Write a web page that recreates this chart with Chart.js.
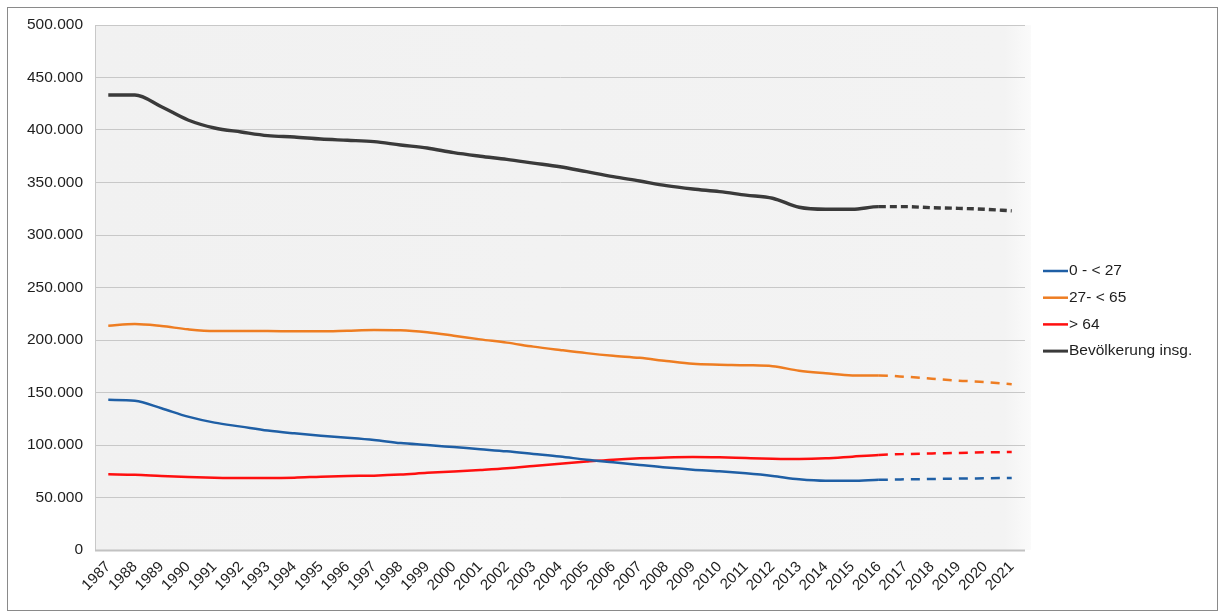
<!DOCTYPE html>
<html>
<head>
<meta charset="utf-8">
<script src="https://cdn.jsdelivr.net/npm/chart.js@4/dist/chart.umd.min.js"></script>
<style>
html,body{margin:0;padding:0;background:#fff;}
#wrap{width:1220px;height:614px;position:relative;}
</style>
</head>
<body>
<div id="wrap"><canvas id="c" width="1220" height="614"></canvas></div>
<script>
const years = ["1987","1988","1989","1990","1991","1992","1993","1994","1995","1996","1997","1998","1999","2000","2001","2002","2003","2004","2005","2006","2007","2008","2009","2010","2011","2012","2013","2014","2015","2016","2017","2018","2019","2020","2021"];
const under27 = [143000,142200,135000,127000,121300,117500,113700,111100,108900,107000,104800,101800,100000,98000,96000,94000,91500,89000,86000,83500,81000,78500,76500,75000,73000,70500,67300,65900,65900,66800,67300,67600,68000,68300,68600];
const age27to64 = [213600,215200,213300,210200,208600,208600,208600,208300,208300,208900,209500,209200,207300,204100,200600,197500,193700,190500,187500,185000,183000,180000,177300,176500,176000,175000,170800,168300,166200,166200,165000,163200,161300,160000,157800];
const over64 = [72100,71700,70500,69500,68900,68600,68600,68900,69800,70500,70800,71800,73500,74800,76200,77800,80000,82200,84200,86000,87300,88200,88600,88300,87600,87000,86700,87300,88900,90500,91400,92000,92400,93000,93300];
const total = [433300,433300,422200,409500,401900,398100,394600,393300,391400,390200,388900,385700,382900,378400,375000,372000,368500,365000,360300,355600,351400,347000,343800,341300,338000,335000,326400,324500,324500,327000,327000,326000,325400,324500,323000];
const seriesLabels = ["0 - < 27","27- < 65","> 64","Bevölkerung insg."];
const yTicks = [0,50000,100000,150000,200000,250000,300000,350000,400000,450000,500000];
const lastActualIndex = 29; // 2016; after that projection (dashed)

const colors = ["#1f5fa5","#ee7d22","#ff0f0f","#3a3a3a"];
const widths = [2.5,2.5,2.5,3.4];
const values = [under27, age27to64, over64, total];

function fmt(v){ return String(v).replace(/\B(?=(\d{3})+(?!\d))/g, "."); }

const datasets = values.map((d,i)=>({
  label: seriesLabels[i],
  data: d,
  borderColor: colors[i],
  backgroundColor: colors[i],
  borderWidth: widths[i],
  pointRadius: 0,
  cubicInterpolationMode: 'monotone',
  fill: false,
  segment: {
    borderDash: ctx => ctx.p0DataIndex >= lastActualIndex ? (i===3 ? [7,4] : [9,7]) : undefined
  }
}));

const bgPlugin = {
  id: 'bg',
  beforeDraw(chart){
    const {ctx, chartArea:a} = chart;
    ctx.save();
    ctx.fillStyle = '#ffffff';
    ctx.fillRect(0,0,chart.width,chart.height);
    const g = ctx.createLinearGradient(a.left,0,a.right+8,0);
    g.addColorStop(0,'#f1f1f1');
    g.addColorStop(0.97,'#f3f3f3');
    g.addColorStop(1,'#fbfbfb');
    ctx.fillStyle = g;
    ctx.fillRect(a.left, a.top, a.right-a.left+6, a.bottom-a.top);
    ctx.strokeStyle = '#8a8a8a';
    ctx.lineWidth = 1;
    ctx.strokeRect(7.5,7.5,1210,603);
    ctx.restore();
  },
  afterDraw(chart){
    const {ctx} = chart;
    ctx.save();
    const a = chart.chartArea;
    ctx.strokeStyle = '#c2c2c2';
    ctx.lineWidth = 2;
    ctx.beginPath();
    ctx.moveTo(a.left, a.bottom+0.5);
    ctx.lineTo(a.right, a.bottom+0.5);
    ctx.stroke();
    // legend
    ctx.font = '15.5px "Liberation Sans", Arial, sans-serif';
    ctx.textBaseline = 'middle';
    ctx.textAlign = 'left';
    const x0 = 1043, y0 = 271, dy = 26.7;
    chart.data.datasets.forEach((ds,i)=>{
      const y = y0 + i*dy;
      ctx.strokeStyle = ds.borderColor;
      ctx.lineWidth = i===3 ? 3 : 2.5;
      ctx.beginPath();
      ctx.moveTo(x0, y);
      ctx.lineTo(x0+25, y);
      ctx.stroke();
      ctx.fillStyle = '#1e1e1e';
      ctx.fillText(ds.label, x0+26, y);
    });
    ctx.restore();
  }
};

new Chart(document.getElementById('c'), {
  type: 'line',
  data: { labels: years, datasets },
  options: {
    responsive: false,
    animation: false,
    events: [],
    layout: { padding: { top: 25, right: 195, left: 0, bottom: 0 } },
    plugins: { legend: { display: false }, tooltip: { enabled: false } },
    scales: {
      y: {
        min: 0, max: 500000,
        afterBuildTicks(axis){ axis.ticks = yTicks.map(v=>({value:v})); },
        afterFit(axis){ axis.width = 95; },
        ticks: {
          callback: v => fmt(v),
          color: '#1e1e1e',
          padding: 12,
          font: { family: '"Liberation Sans", Arial, sans-serif', size: 15.5 }
        },
        grid: { color: '#c8c8c8', lineWidth: 1, drawTicks: false },
        border: { display: true, color: '#c8c8c8', width: 1 }
      },
      x: {
        offset: true,
        afterFit(axis){ axis.height = 64; },
        grid: { display: false, drawTicks: false },
        border: { display: false },
        ticks: {
          autoSkip: false,
          maxRotation: 45, minRotation: 45,
          color: '#1e1e1e',
          padding: 8,
          font: { family: '"Liberation Sans", Arial, sans-serif', size: 15 }
        }
      }
    }
  },
  plugins: [bgPlugin]
});
</script>
</body>
</html>
